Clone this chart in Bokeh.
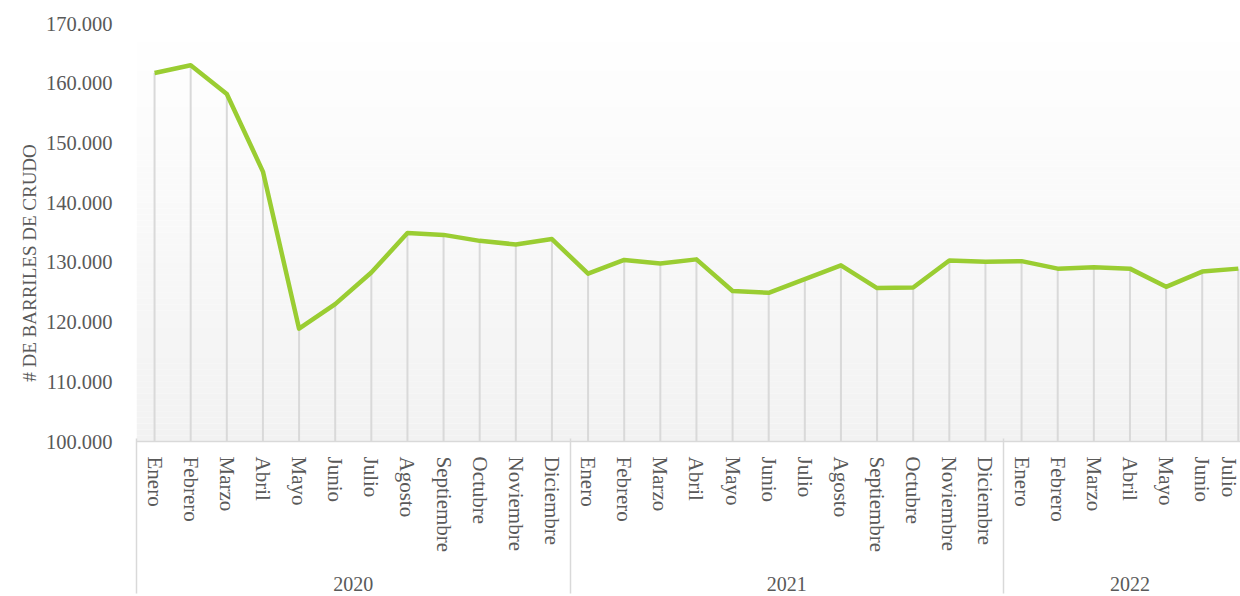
import numpy as np
from bokeh.plotting import figure
from bokeh.models import Range1d, FixedTicker, LinearAxis, Label
from bokeh.embed import file_html
from bokeh.resources import INLINE

# ---------------- data ----------------
years = ["2020", "2021", "2022"]
months_2020 = ["Enero", "Febrero", "Marzo", "Abril", "Mayo", "Junio", "Julio",
               "Agosto", "Septiembre", "Octubre", "Noviembre", "Diciembre"]
months_2021 = ["Enero", "Febrero", "Marzo", "Abril", "Mayo", "Junio", "Julio",
               "Agosto", "Septiembre", "Octubre", "Noviembre", "Diciembre"]
months_2022 = ["Enero", "Febrero", "Marzo", "Abril", "Mayo", "Junio", "Julio"]

barrels_2020 = [161700, 163000, 158200, 145200, 118900, 123000, 128300,
                134900, 134600, 133600, 133000, 133900]
barrels_2021 = [128100, 130400, 129800, 130500, 125200, 124900, 127200,
                129500, 125700, 125800, 130300, 130100]
barrels_2022 = [130200, 128950, 129200, 128950, 125900, 128450, 128950]

y_ticks = [100000, 110000, 120000, 130000, 140000, 150000, 160000, 170000]
y_tick_labels = ["100.000", "110.000", "120.000", "130.000", "140.000",
                 "150.000", "160.000", "170.000"]
y_title = "# DE BARRILES DE CRUDO"

# ---------------- derived ----------------
month_groups = [months_2020, months_2021, months_2022]
months = months_2020 + months_2021 + months_2022
values = barrels_2020 + barrels_2021 + barrels_2022
xs = list(range(len(months)))

counts = [len(g) for g in month_groups]
edges = np.concatenate([[0], np.cumsum(counts)])
year_centers = [float((edges[i] + edges[i + 1] - 1) / 2) for i in range(len(years))]
group_bounds = [float(e - 0.5) for e in edges[:-1]]

Y_MIN, Y_MAX = y_ticks[0], y_ticks[-1]
FONT = "Liberation Serif"
TXT = "#595959"
GRID = "#d9d9d9"

p = figure(width=1240, height=596, output_backend="svg", toolbar_location=None,
           x_range=Range1d(-0.5, 30.06), y_range=Range1d(Y_MIN, Y_MAX),
           min_border_left=136, min_border_right=0, min_border_top=23,
           min_border_bottom=155)
p.outline_line_color = None
p.xgrid.visible = False
p.ygrid.visible = False
p.background_fill_color = "white"
p.border_fill_color = "white"

# vertical gradient background (white -> light grey)
n_bands = 70
band_edges = np.linspace(Y_MIN, Y_MAX, n_bands + 1)
shades = np.linspace(242, 255, n_bands)
band_colors = ["#%02x%02x%02x" % (int(round(s)), int(round(s)), int(round(s))) for s in shades]
p.quad(left=-0.5, right=len(months), bottom=band_edges[:-1], top=band_edges[1:],
       fill_color=band_colors, line_color=None)

# drop lines
p.segment(x0=xs, y0=[Y_MIN] * len(xs), x1=xs, y1=values, line_color=GRID, line_width=2)
# main line
p.line(xs, values, line_color="#9ACD32", line_width=4.5, line_join="round")

# y axis
ya = p.yaxis[0]
ya.ticker = FixedTicker(ticks=y_ticks)
ya.major_label_overrides = {t: l for t, l in zip(y_ticks, y_tick_labels)}
ya.axis_line_color = None
ya.major_tick_line_color = None
ya.minor_tick_line_color = None
ya.major_label_text_font = FONT
ya.major_label_text_font_size = "20.5px"
ya.major_label_text_color = TXT
ya.major_label_standoff = 18

# y-axis title (placed like the original, slightly below the frame centre)
p.add_layout(Label(x=8, x_units="screen", y=129900, y_units="data",
                   text=y_title, angle=np.pi / 2, text_align="center",
                   text_baseline="middle", text_font=FONT, text_font_size="19px",
                   text_color=TXT), "left")

# month axis
xa = p.xaxis[0]
xa.ticker = FixedTicker(ticks=xs)
xa.major_label_overrides = {i: m for i, m in zip(xs, months)}
xa.major_label_orientation = "vertical"
xa.major_label_text_font = FONT
xa.major_label_text_font_size = "21px"
xa.major_label_text_color = TXT
xa.major_label_standoff = 15
xa.axis_line_color = GRID
xa.axis_line_width = 1.5
xa.major_tick_line_color = None
xa.major_tick_out = 0
xa.major_tick_in = 0
xa.minor_tick_line_color = None

# year axis
yr = LinearAxis(ticker=FixedTicker(ticks=year_centers),
                major_label_overrides={c: y for c, y in zip(year_centers, years)})
yr.axis_line_color = None
yr.major_tick_line_color = None
yr.minor_tick_line_color = None
yr.major_tick_out = 0
yr.major_tick_in = 0
yr.major_label_text_font = FONT
yr.major_label_text_font_size = "20px"
yr.major_label_text_color = TXT
yr.major_label_standoff = 21
p.add_layout(yr, "below")

# group separators: outermost axis whose minor ticks point back up to the frame
sep = LinearAxis(ticker=FixedTicker(ticks=[], minor_ticks=group_bounds))
sep.axis_line_color = None
sep.major_tick_line_color = None
sep.major_tick_out = 0
sep.major_tick_in = 0
sep.major_label_standoff = 0
sep.major_label_text_font_size = "0px"
sep.minor_tick_line_color = GRID
sep.minor_tick_line_width = 1.5
sep.minor_tick_out = 0
sep.minor_tick_in = 155
p.add_layout(sep, "below")

open("out.html", "w").write(file_html(p, INLINE))
